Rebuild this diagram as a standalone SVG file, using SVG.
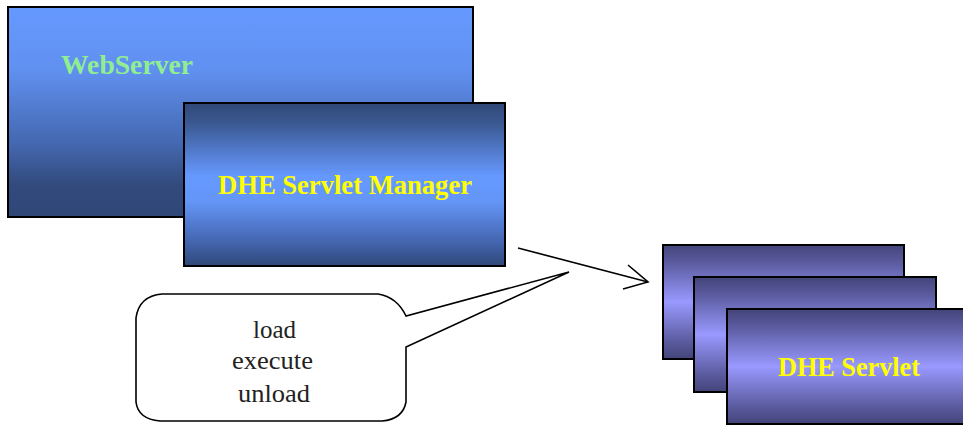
<svg xmlns="http://www.w3.org/2000/svg" width="963" height="426" viewBox="0 0 963 426">
<defs>
<linearGradient id="gWeb" x1="0" y1="0" x2="0" y2="1">
<stop offset="0" stop-color="#6699ff"/>
<stop offset="0.3" stop-color="#6090f0"/>
<stop offset="0.65" stop-color="#4468b0"/>
<stop offset="0.85" stop-color="#324a7c"/>
<stop offset="1" stop-color="#304878"/>
</linearGradient>
<linearGradient id="gMgr" x1="0" y1="0" x2="0" y2="1">
<stop offset="0" stop-color="#304878"/>
<stop offset="0.12" stop-color="#3a5890"/>
<stop offset="0.45" stop-color="#6699ff"/>
<stop offset="0.6" stop-color="#6496f8"/>
<stop offset="0.85" stop-color="#4466b0"/>
<stop offset="1" stop-color="#304878"/>
</linearGradient>
<linearGradient id="gSrv" x1="0" y1="0" x2="0" y2="1">
<stop offset="0" stop-color="#44447a"/>
<stop offset="0.15" stop-color="#5a5a9e"/>
<stop offset="0.5" stop-color="#9999ff"/>
<stop offset="0.85" stop-color="#5a5a9e"/>
<stop offset="1" stop-color="#44447a"/>
</linearGradient>
<style>
.box{stroke:#000;stroke-width:2}
.title{font-family:"Liberation Serif","Times New Roman",serif;font-weight:bold;font-size:27px}
.lbl{font-family:"Liberation Serif","Times New Roman",serif;font-size:25px;fill:#222}
.ln{fill:none;stroke:#000;stroke-width:1.6}
</style>
</defs>
<g id="webserver">
<rect class="box" x="8" y="7" width="465" height="210" fill="url(#gWeb)"/>
<text class="title" x="61" y="74" fill="#90ee90" textLength="132" lengthAdjust="spacingAndGlyphs">WebServer</text>
</g>
<g id="manager">
<rect class="box" x="184" y="103" width="321" height="163" fill="url(#gMgr)"/>
<text class="title" x="218" y="194" fill="#ffff00" textLength="254" lengthAdjust="spacingAndGlyphs">DHE Servlet Manager</text>
</g>
<g id="servlet1">
<rect class="box" x="663" y="245" width="241" height="114" fill="url(#gSrv)"/>
</g>
<g id="servlet2">
<rect class="box" x="694" y="277" width="242" height="115" fill="url(#gSrv)"/>
</g>
<g id="servlet3">
<rect class="box" x="727" y="309" width="240" height="115" fill="url(#gSrv)"/>
<text class="title" x="778" y="376" fill="#ffff00" textLength="142" lengthAdjust="spacingAndGlyphs">DHE Servlet</text>
</g>
<g id="connectors">
<line class="ln" x1="518" y1="248" x2="648" y2="282"/>
<polyline class="ln" points="628,265 648,282 623,289"/>
</g>
<g id="callout">
<path d="M162,294 L378,294 Q397,297 406,316 L569,272 L406,347 L406,402 Q403,419 382,421 L160,421 Q138,419 136,402 L136,318 Q139,296 162,294 Z" fill="#fff" stroke="#000" stroke-width="1.6"/>
<text class="lbl" x="253" y="338" textLength="43" lengthAdjust="spacingAndGlyphs">load</text>
<text class="lbl" x="232" y="369" textLength="81" lengthAdjust="spacingAndGlyphs">execute</text>
<text class="lbl" x="238" y="402" textLength="72" lengthAdjust="spacingAndGlyphs">unload</text>
</g>
</svg>
